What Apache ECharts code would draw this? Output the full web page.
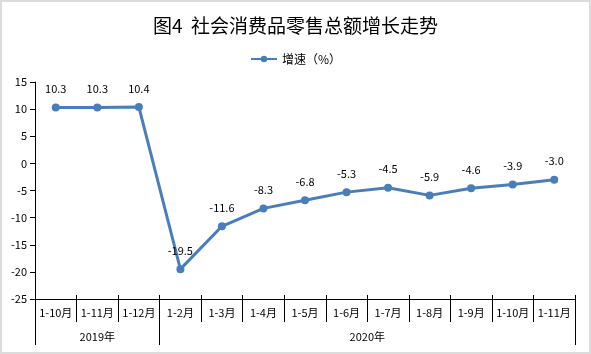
<!DOCTYPE html>
<html>
<head>
<meta charset="utf-8">
<script src="https://cdn.jsdelivr.net/npm/echarts@6/dist/echarts.min.js"></script>
<style>
  html, body { margin: 0; padding: 0; background: #fff; }
  #chart { width: 591px; height: 354px; box-sizing: border-box; border: 2px solid #dcdcdc; }
</style>
</head>
<body>
<div id="chart"></div>
<script>
const months = ['1-10月','1-11月','1-12月','1-2月','1-3月','1-4月','1-5月','1-6月','1-7月','1-8月','1-9月','1-10月','1-11月'];
const growth = [10.3, 10.3, 10.4, -19.5, -11.6, -8.3, -6.8, -5.3, -4.5, -5.9, -4.6, -3.9, -3.0];
const yearNames = ['2019年', '2020年'];
const yearCounts = [3, 10];
const yTicks = { min: -25, max: 15, step: 5 };

// group boundaries and centers, in category units
const bounds = [0];
const centers = [];
yearCounts.forEach((n, i) => {
  const start = bounds[i];
  bounds.push(start + n);
  centers.push(start + n / 2);
});

const font = '"Microsoft YaHei", "Noto Sans CJK SC", sans-serif';
const lineColor = '#4a7ebb';

const chart = echarts.init(document.getElementById('chart'));
chart.setOption({
  animation: false,
  textStyle: { fontFamily: font },
  title: {
    text: '图4  社会消费品零售总额增长走势',
    left: 'center', top: 9,
    textStyle: { fontSize: 19, fontWeight: 'normal', color: '#000', fontFamily: font }
  },
  legend: {
    top: 46, left: 'center',
    itemWidth: 26, itemHeight: 8,
    textStyle: { fontSize: 12, color: '#000' },
    data: ['增速（%）']
  },
  grid: { left: 33, right: 14, top: 80, bottom: 53 },
  xAxis: [
    {
      type: 'category', data: months, position: 'bottom',
      axisLine: { onZero: false, lineStyle: { color: '#000', width: 1 } },
      axisTick: { show: true, interval: 0, length: 23, lineStyle: { color: '#000' } },
      axisLabel: { color: '#000', fontSize: 11, margin: 8, interval: 0 }
    },
    {
      // short ticks poking up into the plot
      type: 'category', data: months, position: 'bottom',
      axisLine: { show: false, onZero: false },
      axisTick: { show: true, interval: 0, inside: true, length: 4, lineStyle: { color: '#000' } },
      axisLabel: { show: false }
    },
    {
      // year separators
      type: 'category', data: months, position: 'bottom', offset: 46,
      axisLine: { show: false, onZero: false },
      axisTick: { show: true, inside: true, length: 23, interval: (i) => bounds.indexOf(i) >= 0, lineStyle: { color: '#000' } },
      axisLabel: { show: false }
    },
    {
      // year labels
      type: 'value', position: 'bottom', offset: 46,
      min: 0, max: months.length,
      axisLine: { show: false, onZero: false },
      splitLine: { show: false },
      axisTick: { show: false },
      axisLabel: {
        show: true, color: '#000', fontSize: 11, inside: true, margin: 3,
        customValues: centers,
        formatter: v => yearNames[centers.indexOf(v)] || ''
      }
    }
  ],
  yAxis: {
    type: 'value', min: yTicks.min, max: yTicks.max, interval: yTicks.step,
    axisLine: { show: true, onZero: false, lineStyle: { color: '#000' } },
    axisTick: { show: true, length: 5, lineStyle: { color: '#000' } },
    axisLabel: { color: '#000', fontSize: 11, margin: 8 },
    splitLine: { show: false }
  },
  series: [{
    name: '增速（%）',
    type: 'line',
    data: growth,
    symbol: 'circle', symbolSize: 8,
    itemStyle: { color: lineColor },
    lineStyle: { color: lineColor, width: 3 },
    label: { show: true, position: 'top', distance: 9, color: '#000', fontSize: 11, formatter: p => p.value.toFixed(1) }
  }]
});
</script>
</body>
</html>
